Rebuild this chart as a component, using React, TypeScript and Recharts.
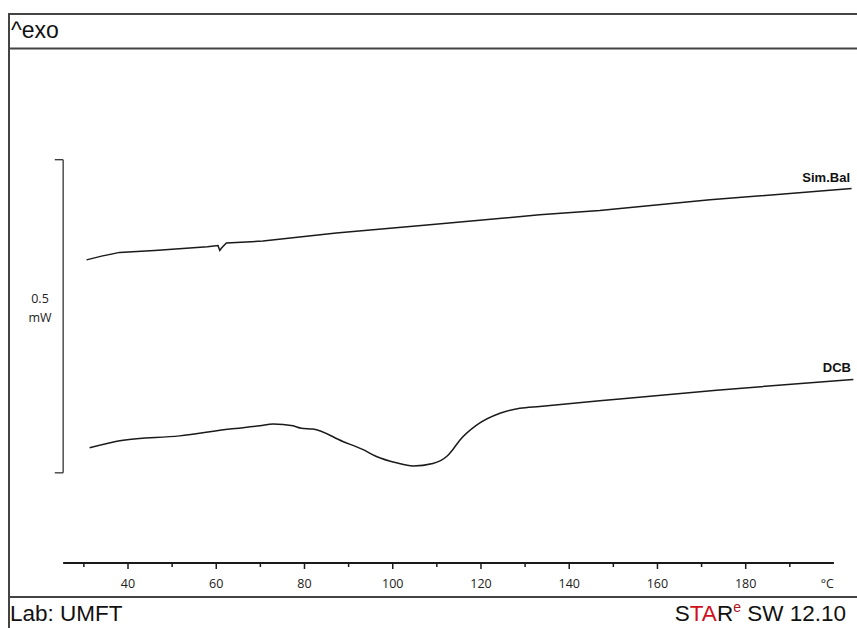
import { LineChart, Line, XAxis, YAxis, ReferenceLine } from "recharts"

// DSC curves, heat flow in mW (relative offset), temperature in °C
const simBalTemp = [30.6, 34, 38.1, 46, 54, 58, 60.4, 60.8, 61.2, 62.3, 70.6, 87.2, 108.4, 133.3, 146.9, 171.9, 204]
const simBalHeat = [0.484, 0.49, 0.496, 0.499, 0.503, 0.505, 0.507, 0.499, 0.503, 0.511, 0.514, 0.527, 0.54, 0.556, 0.563, 0.58, 0.598]

const dcbTemp = [31.3, 38.9, 51.7, 63.1, 69.9, 72.9, 77.4, 79.3, 81.9, 88.7, 93.3, 96.3, 100.8, 104.6, 109.1, 112.2, 113.6, 115.2, 119.0, 124.3, 128.8, 133.3, 146.9, 173.4, 204.4]
const dcbHeat = [0.184, 0.196, 0.203, 0.214, 0.219, 0.222, 0.219, 0.215, 0.214, 0.194, 0.181, 0.17, 0.16, 0.155, 0.159, 0.17, 0.181, 0.196, 0.22, 0.239, 0.247, 0.25, 0.259, 0.276, 0.293]

const tempTicks = [30, 40, 50, 60, 70, 80, 90, 100, 110, 120, 130, 140, 150, 160, 170, 180, 190, 200]

// 0.5 mW scale bar
const scaleLow = 0.144
const scaleHigh = 0.644

const simBal = simBalTemp.map((t, i) => ({ t, v: simBalHeat[i] }))
const dcb = dcbTemp.map((t, i) => ({ t, v: dcbHeat[i] }))

const AXIS_Y = 563
const INK = "#1a1a1a"
const tickFont = "'Open Sans', 'Liberation Sans', sans-serif"
const arial = "'Liberation Sans', Arial, sans-serif"

function TempTick(props: any) {
  const { x, payload } = props
  const val = payload.value
  if (val === 200) {
    return (
      <text x={x} y={AXIS_Y + 25} textAnchor="end" fontSize={12.5} fontFamily={tickFont} fill="#222">
        °C
      </text>
    )
  }
  const major = val % 20 === 0
  return (
    <g>
      <line x1={x} x2={x} y1={AXIS_Y} y2={AXIS_Y + (major ? 6 : 4)} stroke={INK} strokeWidth={1.5} />
      {major && (
        <text x={x} y={AXIS_Y + 25} textAnchor="middle" fontSize={12.5} fontFamily={tickFont} fill="#222">
          {val}
        </text>
      )}
    </g>
  )
}

export default function App() {
  return (
    <div style={{ position: "absolute", left: 0, top: 0, width: 857, height: 628, background: "#fff" }}>
      <LineChart width={857} height={628} margin={{ top: 62, right: 1, left: 53, bottom: 35 }}>
        <XAxis
          type="number"
          dataKey="t"
          domain={[23, 205]}
          ticks={tempTicks}
          interval={0}
          height={30}
          axisLine={false}
          tickLine={false}
          tick={<TempTick />}
          allowDataOverflow
        />
        <YAxis type="number" dataKey="v" domain={[0, 0.8]} hide allowDataOverflow />
        <ReferenceLine segment={[{ x: 25.3, y: 0 }, { x: 200, y: 0 }]} stroke={INK} strokeWidth={1.8} ifOverflow="visible" />
        <ReferenceLine segment={[{ x: 25.3, y: scaleLow }, { x: 25.3, y: scaleHigh }]} stroke="#333" strokeWidth={1.3} />
        <ReferenceLine segment={[{ x: 23.4, y: scaleLow }, { x: 25.3, y: scaleLow }]} stroke="#333" strokeWidth={1.3} />
        <ReferenceLine segment={[{ x: 23.4, y: scaleHigh }, { x: 25.3, y: scaleHigh }]} stroke="#333" strokeWidth={1.3} />
        <Line
          data={simBal}
          dataKey="v"
          type="linear"
          stroke={INK}
          strokeWidth={1.5}
          dot={false}
          isAnimationActive={false}
        />
        <Line
          data={dcb}
          dataKey="v"
          type="monotone"
          stroke={INK}
          strokeWidth={1.5}
          dot={false}
          isAnimationActive={false}
        />
      </LineChart>
      <svg width={857} height={628} style={{ position: "absolute", left: 0, top: 0, pointerEvents: "none" }}>
        <line x1={9} x2={857} y1={14} y2={14} stroke="#444" strokeWidth={2} />
        <line x1={9} x2={857} y1={48.5} y2={48.5} stroke="#444" strokeWidth={2} />
        <line x1={9} x2={857} y1={597} y2={597} stroke="#444" strokeWidth={2} />
        <line x1={9} x2={9} y1={13} y2={628} stroke="#444" strokeWidth={2} />
        <text x={11} y={38} fontSize={23} fontFamily={arial} fill="#111">^exo</text>
        <text x={40} y={303} textAnchor="middle" fontSize={12.5} fontFamily={tickFont} fill="#222">0.5</text>
        <text x={40} y={322} textAnchor="middle" fontSize={12.5} fontFamily={tickFont} fill="#222">mW</text>
        <text x={850} y={181.5} textAnchor="end" fontSize={13} fontWeight="bold" fontFamily={arial} fill="#111">Sim.Bal</text>
        <text x={851} y={371.5} textAnchor="end" fontSize={13} fontWeight="bold" fontFamily={arial} fill="#111">DCB</text>
        <text x={10} y={621} fontSize={22.5} fontFamily={arial} fill="#111">Lab: UMFT</text>
        <text x={846} y={621} textAnchor="end" fontSize={22.5} fontFamily={arial} fill="#111">
          S<tspan fill="#d0101a">TA</tspan>R<tspan fontSize={14} dy={-9} fill="#b01018">e</tspan>
          <tspan dy={9}> SW 12.10</tspan>
        </text>
      </svg>
    </div>
  )
}
